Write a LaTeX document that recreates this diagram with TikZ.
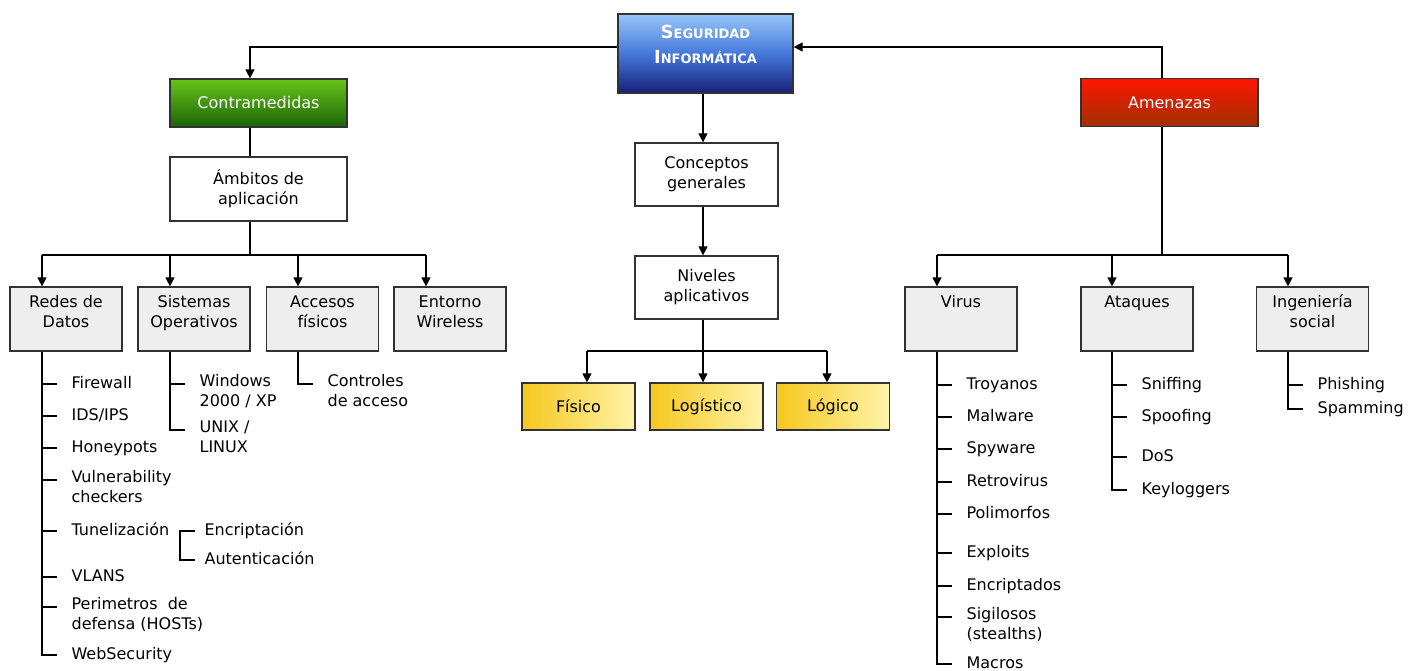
\documentclass[tikz,border=0pt]{standalone}
\usepackage{fontspec}
\setmainfont{DejaVu Sans}
\usetikzlibrary{arrows.meta}

\definecolor{segtop}{RGB}{150,198,248}
\definecolor{segmid}{RGB}{70,120,220}
\definecolor{segbot}{RGB}{22,32,120}
\definecolor{contop}{RGB}{104,196,24}
\definecolor{conbot}{RGB}{28,100,8}
\definecolor{amentop}{RGB}{255,22,0}
\definecolor{amenbot}{RGB}{160,48,0}
\definecolor{nivleft}{RGB}{246,200,30}
\definecolor{nivright}{RGB}{255,243,170}
\definecolor{boxline}{RGB}{50,50,50}

\newcommand{\petit}[1]{{\fontsize{13}{15}\selectfont #1}}
\newcommand{\toplines}[1]{\begin{tabular}[t]{@{}c@{}}#1\end{tabular}}
\newcommand{\twig}[1]{\draw ([xshift=-29pt,yshift=-10pt]#1.north west) -- ++(15,0);}

\tikzstyle{box} = [draw=boxline, line width=1.2pt, inner sep=0pt, font=\fontsize{16}{20}\selectfont]
\tikzstyle{head} = [box, align=center, minimum width=177pt, minimum height=48pt, text=white]
\tikzstyle{plain} = [box, align=center, fill=white, minimum width=143pt, minimum height=63pt]
\tikzstyle{topic} = [box, fill=gray!13, minimum width=112pt, text height=20.5pt, text depth=43.5pt]
\tikzstyle{level} = [box, left color=nivleft, right color=nivright, minimum width=113pt, minimum height=47pt]
\tikzstyle{item} = [anchor=north west, inner sep=0pt, align=left, font=\fontsize{16}{20}\selectfont, execute at begin node=\strut]
\tikzstyle{arr} = [-{Triangle[length=9pt,width=9pt]}]

\begin{document}
\begin{tikzpicture}[x=1pt, y=-1pt, line width=1.2pt]
\useasboundingbox (0,0) rectangle (1415,671);

% cabeceras
\node[box, top color=segtop, bottom color=segbot, middle color=segmid, minimum width=175pt, text height=24.5pt, text depth=54.5pt, text=white, font=\bfseries\fontsize{18}{25}\selectfont] (seg) at (705.5,53.5) {\toplines{S\petit{EGURIDAD}\\I\petit{NFORMÁTICA}}};
\node[head, top color=contop, bottom color=conbot] (contra) at (258.5,103) {Contramedidas};
\node[head, top color=amentop, bottom color=amenbot] (amen) at (1169.5,102.5) {Amenazas};

\node[box, align=center, fill=white, minimum width=177pt, minimum height=64pt] (amb) at (258.5,189) {Ámbitos de\\aplicación};
\node[plain] (conc) at (706.5,174.5) {Conceptos\\generales};
\node[plain] (niv) at (706.5,287.5) {Niveles\\aplicativos};

\node[level] (fis) at (578.5,406.5) {Físico};
\node[level] (logis) at (706.5,406.5) {Logístico};
\node[level] (logic) at (833,406.5) {Lógico};

\node[topic] (redes) at (66,319) {\toplines{Redes de\\Datos}};
\node[topic] (sist) at (194,319) {\toplines{Sistemas\\Operativos}};
\node[topic] (acc) at (322.5,319) {\toplines{Accesos\\físicos}};
\node[topic] (ent) at (450,319) {\toplines{Entorno\\Wireless}};
\node[topic] (virus) at (961,319) {\toplines{Virus}};
\node[topic] (ataq) at (1137,319) {\toplines{Ataques}};
\node[topic] (ing) at (1312.5,319) {\toplines{Ingeniería\\social}};

\coordinate (jl) at (250,255);
\coordinate (rd) at (42,255);
\coordinate (so) at (170,255);
\coordinate (af) at (298,255);
\coordinate (ew) at (426,255);
\coordinate (fi) at (587,351);
\coordinate (lg) at (703,351);
\coordinate (lc) at (827,351);
\coordinate (jr) at (1162,255);
\coordinate (vi) at (937,255);
\coordinate (aq) at (1112,255);
\coordinate (is) at (1288,255);

% listas
\node[item] (fw) at (71,374) {Firewall};
\node[item] (ids) at (71,406) {IDS/IPS};
\node[item] (hon) at (71,438) {Honeypots};
\node[item] (vul) at (71,470) {Vulnerability\\checkers};
\node[item] (tun) at (71,521) {Tunelización};
\node[item] (vla) at (71,567) {VLANS};
\node[item] (per) at (71,597) {Perimetros~ de\\defensa (HOSTs)};
\node[item] (web) at (71,645) {WebSecurity};
\node[item] (encr) at (204,521) {Encriptación};
\node[item] (aut) at (204,550) {Autenticación};

\node[item] (win) at (199,374) {Windows\\2000 / XP};
\node[item] (unx) at (199,420) {UNIX /\\LINUX};
\node[item] (ctl) at (327,374) {Controles\\de acceso};

\node[item] (tro) at (966,375) {Troyanos};
\node[item] (mal) at (966,407) {Malware};
\node[item] (spy) at (966,439) {Spyware};
\node[item] (ret) at (966,472) {Retrovirus};
\node[item] (pol) at (966,504) {Polimorfos};
\node[item] (exp) at (966,543) {Exploits};
\node[item] (enc) at (966,576) {Encriptados};
\node[item] (sig) at (966,607) {Sigilosos\\(stealths)};
\node[item] (mac) at (966,654) {Macros};

\node[item] (sni) at (1141,375) {Sniffing};
\node[item] (spo) at (1141,407) {Spoofing};
\node[item] (dos) at (1141,447) {DoS};
\node[item] (key) at (1141,480) {Keyloggers};

\node[item] (phi) at (1317,375) {Phishing};
\node[item] (spa) at (1317,399) {Spamming};

% conexiones
\draw[arr] ([yshift=6.5pt]seg.west) -| (contra.north -| jl);
\draw[arr] (amen.north -| jr) |- ([yshift=6.5pt]seg.east);
\draw (contra.south -| jl) -- (amb.north -| jl);
\draw (amb.south -| jl) -- (jl);
\draw (rd) -- (ew);
\draw[arr] (rd) -- (redes.north -| rd);
\draw[arr] (so) -- (sist.north -| so);
\draw[arr] (af) -- (acc.north -| af);
\draw[arr] (ew) -- (ent.north -| ew);

\draw[arr] (seg.south -| lg) -- (conc.north -| lg);
\draw[arr] (conc.south -| lg) -- (niv.north -| lg);
\draw (niv.south -| lg) -- (lg);
\draw (fi) -- (lc);
\draw[arr] (fi) -- (fis.north -| fi);
\draw[arr] (lg) -- (logis.north -| lg);
\draw[arr] (lc) -- (logic.north -| lc);

\draw (amen.south -| jr) -- (jr);
\draw (vi) -- (is);
\draw[arr] (vi) -- (virus.north -| vi);
\draw[arr] (aq) -- (ataq.north -| aq);
\draw[arr] (is) -- (ing.north -| is);

\draw (redes.south -| rd) |- ([xshift=-14pt,yshift=-10pt]web.north west);
\twig{fw} \twig{ids} \twig{hon} \twig{vul} \twig{tun} \twig{vla} \twig{per}
\draw ([xshift=-9pt,yshift=-10pt]encr.north west) -| ([xshift=-24pt,yshift=-10pt]aut.north west) -- ([xshift=-9pt,yshift=-10pt]aut.north west);
\draw (sist.south -| so) |- ([xshift=-14pt,yshift=-10pt]unx.north west);
\twig{win}
\draw (acc.south -| af) |- ([xshift=-14pt,yshift=-10pt]ctl.north west);

\draw (virus.south -| vi) |- ([xshift=-14pt,yshift=-10pt]mac.north west);
\twig{tro} \twig{mal} \twig{spy} \twig{ret} \twig{pol} \twig{exp} \twig{enc} \twig{sig}
\draw (ataq.south -| aq) |- ([xshift=-14pt,yshift=-10pt]key.north west);
\twig{sni} \twig{spo} \twig{dos}
\draw (ing.south -| is) |- ([xshift=-14pt,yshift=-10pt]spa.north west);
\twig{phi}
\end{tikzpicture}
\end{document}
